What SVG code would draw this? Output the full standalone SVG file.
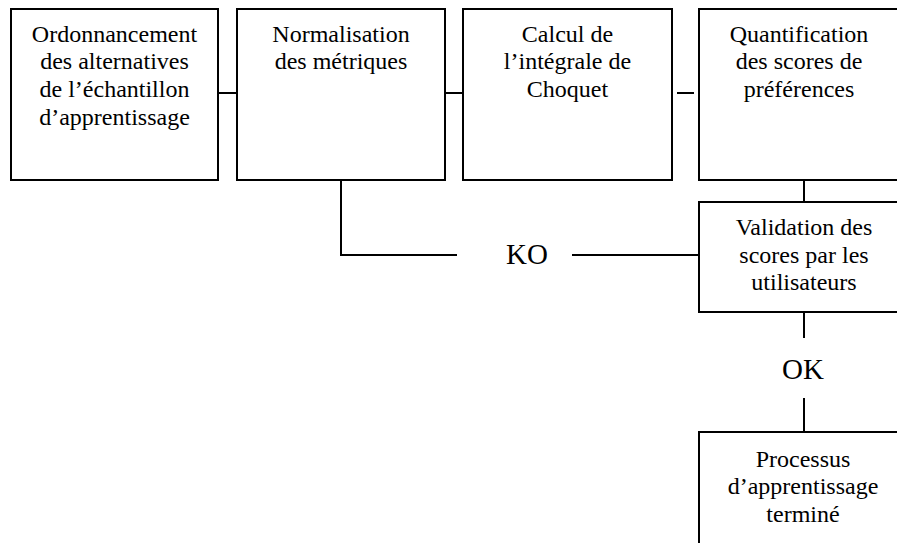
<svg xmlns="http://www.w3.org/2000/svg" width="897" height="553" viewBox="0 0 897 553" xml:lang="fr" font-family="Liberation Serif, Tinos, serif">
  <rect width="897" height="553" fill="#ffffff"/>

  <!-- connectors -->
  <g id="connectors" fill="none" stroke="#000000" stroke-width="2">
    <line x1="218" y1="93" x2="237" y2="93"/>
    <line x1="445" y1="93" x2="463" y2="93"/>
    <line x1="677" y1="93" x2="694" y2="93"/>
    <line x1="804" y1="180" x2="804" y2="202"/>
    <polyline points="341,180 341,255 457,255"/>
    <line x1="572" y1="255" x2="699" y2="255"/>
    <line x1="804" y1="312" x2="804" y2="338"/>
    <line x1="804" y1="398" x2="804" y2="432"/>
  </g>
  <g id="connector-labels" fill="#000000" text-anchor="middle">
    <text font-family="Liberation Serif, Tinos, serif" font-size="29" x="527" y="264">KO</text>
    <text font-family="Liberation Serif, Tinos, serif" font-size="29" x="803" y="379">OK</text>
  </g>

  <g id="ordonnancement" text-anchor="middle">
    <rect x="11" y="9" width="207" height="171" fill="#ffffff" stroke="#000000" stroke-width="2"/>
    <text font-family="Liberation Serif, Tinos, serif" font-size="24" x="114.5" y="42">Ordonnancement</text>
    <text font-family="Liberation Serif, Tinos, serif" font-size="24" x="114.5" y="69">des alternatives</text>
    <text font-family="Liberation Serif, Tinos, serif" font-size="24" x="114.5" y="97">de l&#8217;&#233;chantillon</text>
    <text font-family="Liberation Serif, Tinos, serif" font-size="24" x="114.5" y="125">d&#8217;apprentissage</text>
  </g>

  <g id="normalisation" text-anchor="middle">
    <rect x="237" y="9" width="208" height="171" fill="#ffffff" stroke="#000000" stroke-width="2"/>
    <text font-family="Liberation Serif, Tinos, serif" font-size="24" x="341" y="42">Normalisation</text>
    <text font-family="Liberation Serif, Tinos, serif" font-size="24" x="341" y="69">des m&#233;triques</text>
  </g>

  <g id="choquet" text-anchor="middle">
    <rect x="463" y="9" width="209" height="171" fill="#ffffff" stroke="#000000" stroke-width="2"/>
    <text font-family="Liberation Serif, Tinos, serif" font-size="24" x="567.5" y="42">Calcul de</text>
    <text font-family="Liberation Serif, Tinos, serif" font-size="24" x="567.5" y="69">l&#8217;int&#233;grale de</text>
    <text font-family="Liberation Serif, Tinos, serif" font-size="24" x="567.5" y="97">Choquet</text>
  </g>

  <g id="quantification" text-anchor="middle">
    <rect x="699" y="9" width="212" height="171" fill="#ffffff" stroke="#000000" stroke-width="2"/>
    <text font-family="Liberation Serif, Tinos, serif" font-size="24" x="799" y="42">Quantification</text>
    <text font-family="Liberation Serif, Tinos, serif" font-size="24" x="799" y="69">des scores de</text>
    <text font-family="Liberation Serif, Tinos, serif" font-size="24" x="799" y="97">pr&#233;f&#233;rences</text>
  </g>

  <g id="validation" text-anchor="middle">
    <rect x="699" y="202" width="212" height="110" fill="#ffffff" stroke="#000000" stroke-width="2"/>
    <text font-family="Liberation Serif, Tinos, serif" font-size="24" x="804" y="235">Validation des</text>
    <text font-family="Liberation Serif, Tinos, serif" font-size="24" x="804" y="263">scores par les</text>
    <text font-family="Liberation Serif, Tinos, serif" font-size="24" x="804" y="290">utilisateurs</text>
  </g>

  <g id="processus" text-anchor="middle">
    <path d="M699,543 V432 H905" fill="none" stroke="#000000" stroke-width="2"/>
    <text font-family="Liberation Serif, Tinos, serif" font-size="24" x="803" y="467">Processus</text>
    <text font-family="Liberation Serif, Tinos, serif" font-size="24" x="803" y="494">d&#8217;apprentissage</text>
    <text font-family="Liberation Serif, Tinos, serif" font-size="24" x="803" y="522">termin&#233;</text>
  </g>
</svg>
